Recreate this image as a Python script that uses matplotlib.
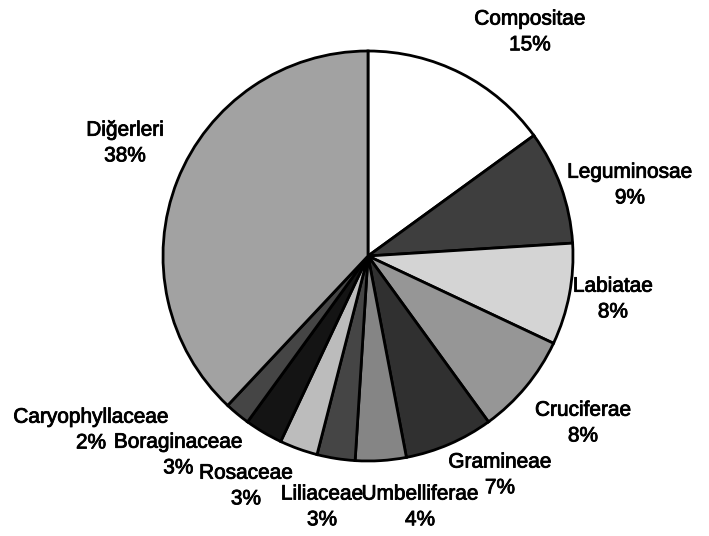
import matplotlib
matplotlib.use("Agg")
import matplotlib.pyplot as plt
import matplotlib.patheffects as pe

labels = ["Compositae", "Leguminosae", "Labiatae", "Cruciferae", "Gramineae",
          "Umbelliferae", "Liliaceae", "Rosaceae", "Boraginaceae",
          "Caryophyllaceae", "Diğerleri"]
values = [15, 9, 8, 8, 7, 4, 3, 3, 3, 2, 38]
colors = ["#ffffff", "#3e3e3e", "#d4d4d4", "#969696", "#303030",
          "#858585", "#454545", "#bcbcbc", "#141414", "#454545", "#a2a2a2"]

# label centres (layout), in pie-radius units relative to the centre
label_pos = [(0.79, 1.093), (1.278, 0.346), (1.195, -0.21), (1.049, -0.815),
             (0.644, -1.068), (0.254, -1.224), (-0.224, -1.224),
             (-0.595, -1.122), (-0.925, -0.971), (-1.351, -0.849),
             (-1.185, 0.551)]

plt.rcParams['font.family'] = ['Liberation Sans', 'DejaVu Sans']

fig = plt.figure(figsize=(7.09, 5.36), dpi=100)
ax = fig.add_axes([0, 0, 1, 1])
wedges, _ = ax.pie(values, colors=colors, startangle=90, counterclock=False,
                   radius=1.0, center=(0, 0),
                   wedgeprops=dict(edgecolor="black", linewidth=2))

for lab, v, (x, y) in zip(labels, values, label_pos):
    ax.text(x, y, f"{lab}\n{v}%", ha="center", va="center", fontsize=15,
            linespacing=1.45, color="black",
            path_effects=[pe.withStroke(linewidth=0.6, foreground="black")])

scale = 205.0
ax.set_xlim(-368 / scale, (709 - 368) / scale)
ax.set_ylim(-(536 - 256) / scale, 256 / scale)
ax.set_aspect("equal", adjustable="datalim")
ax.axis("off")
fig.savefig("out.png", dpi=100)
